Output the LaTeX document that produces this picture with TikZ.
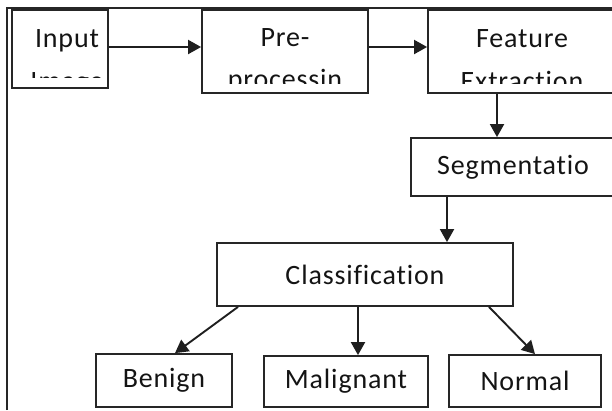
\documentclass[tikz,border=0pt]{standalone}
\usepackage{fontspec}
\setmainfont{Carlito}[LetterSpace=3, Ligatures={NoCommon,NoRequired,NoContextual}, RawFeature={-liga;-clig;-dlig}]
\usetikzlibrary{arrows.meta}
\begin{document}
\begin{tikzpicture}[x=1bp,y=-1bp,
  box/.style={draw=black!85, line width=1.8bp, inner sep=0pt},
  lbl/.style={font=\fontsize{28bp}{32bp}\selectfont, text=black!92, inner sep=0pt},
  arr/.style={draw=black!88, line width=1.9bp, -{Triangle[length=13bp,width=14bp]}}]
\useasboundingbox (0,0) rectangle (612,410);
% page frame
\draw[black!85, line width=2bp] (7,410) -- (7,8) -- (612,8);
% boxes
\node[box, minimum width=96bp, minimum height=78bp] (inp) at (60,49) {};
\node[box, minimum width=166bp, minimum height=83bp] (pre) at (285,51.5) {};
\node[box, minimum width=188bp, minimum height=83bp] (feat) at (522,51.5) {};
\node[box, minimum width=204bp, minimum height=58bp] (seg) at (513,167) {};
\node[box, minimum width=296bp, minimum height=63bp] (cls) at (365,274.5) {};
\node[box, minimum width=136bp, minimum height=53bp] (ben) at (164,380.5) {};
\node[box, minimum width=164bp, minimum height=51bp] (mal) at (346,381.5) {};
\node[box, minimum width=152bp, minimum height=52bp] (nor) at (525,381) {};
% clipped two-line texts
\begin{scope}
  \clip (13,11) rectangle (107,77);
  \node[lbl, anchor=base] (tinp1) at (67,47) {Input};
  \node[lbl, anchor=base] (tinp2) at (67,90) {Image};
\end{scope}
\begin{scope}
  \clip (203,11) rectangle (367,83);
  \node[lbl, anchor=base] (tpre1) at (285,46) {Pre-};
  \node[lbl, anchor=base] (tpre2) at (285,88) {processin};
\end{scope}
\begin{scope}
  \clip (429,11) rectangle (612,83);
  \node[lbl, anchor=base] (tfeat1) at (522,47) {Feature};
  \node[lbl, anchor=base] (tfeat2) at (522,90) {Extraction};
\end{scope}
\node[lbl] (tseg) at (seg.center) {Segmentatio};
\node[lbl] (tcls) at (cls.center) {Classification};
\node[lbl] (tben) at (ben.center) {Benign};
\node[lbl] (tmal) at (mal.center) {Malignant};
\node[lbl] (tnor) at (nor.center) {Normal};
% connectors
\coordinate (h1) at (0,47);
\coordinate (v1) at (497,0);
\coordinate (v2) at (447,0);
\coordinate (b1) at (238,0);
\coordinate (b2) at (175,0);
\coordinate (m1) at (358,0);
\coordinate (n1) at (489,0);
\coordinate (n2) at (535,0);
\draw[arr] (inp.east |- h1) -- (pre.west |- h1);
\draw[arr] (pre.east |- h1) -- (feat.west |- h1);
\draw[arr] (feat.south -| v1) -- (seg.north -| v1);
\draw[arr] (seg.south -| v2) -- (cls.north -| v2);
\draw[arr] (cls.south -| b1) -- (ben.north -| b2);
\draw[arr] (cls.south -| m1) -- (mal.north -| m1);
\draw[arr] (cls.south -| n1) -- (nor.north -| n2);
\end{tikzpicture}
\end{document}
